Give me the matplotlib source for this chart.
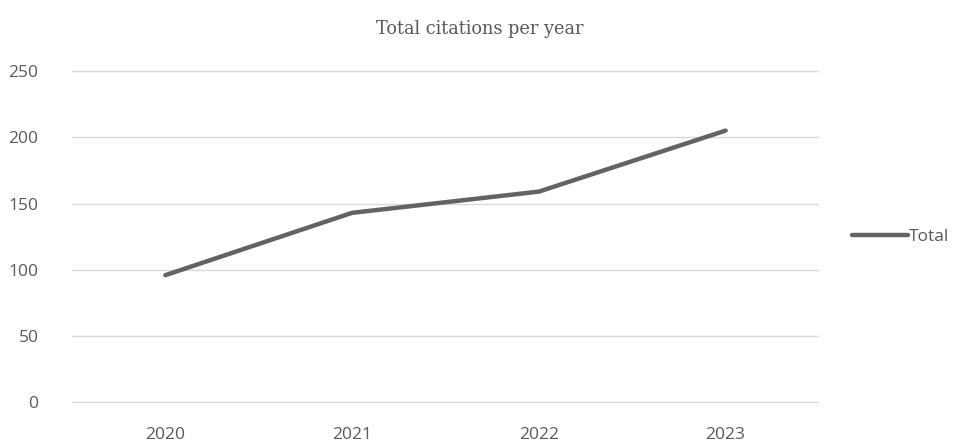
import matplotlib.pyplot as plt

# data
years = ["2020", "2021", "2022", "2023"]
total = [96, 143, 159, 205]
yticks = [0, 50, 100, 150, 200, 250]

plt.rcParams["font.family"] = ["Open Sans", "DejaVu Sans"]

fig = plt.figure(figsize=(9.59, 4.41), dpi=100)
ax = fig.add_axes([0.075, 0.0855, 0.779, 0.7555])

x = list(range(len(years)))
ax.plot(x, total, color="#636363", linewidth=3.2, solid_capstyle="round", label="Total")

ax.set_xlim(-0.5, len(years) - 0.5)
ax.set_ylim(-0.6, 250.6)
ax.set_xticks(x)
ax.set_xticklabels(years)
ax.set_yticks(yticks)
ax.grid(axis="y", color="#d9d9d9", linewidth=1)
ax.set_axisbelow(True)
for s in ax.spines.values():
    s.set_visible(False)
ax.tick_params(axis="both", length=0, labelsize=12.5, labelcolor="#595959")
ax.tick_params(axis="x", pad=17)
ax.tick_params(axis="y", pad=24)

fig.text(0.5, 0.935, "Total citations per year", ha="center", va="center",
         fontsize=12.8, color="#595959", family=["DejaVu Serif"])

leg = ax.legend(loc="center left", bbox_to_anchor=(1.035, 0.5), frameon=False,
                fontsize=12.5, handlelength=3.2, handletextpad=0.1, borderaxespad=0.0)
for t in leg.get_texts():
    t.set_color("#595959")

fig.savefig("out.png", dpi=100)
